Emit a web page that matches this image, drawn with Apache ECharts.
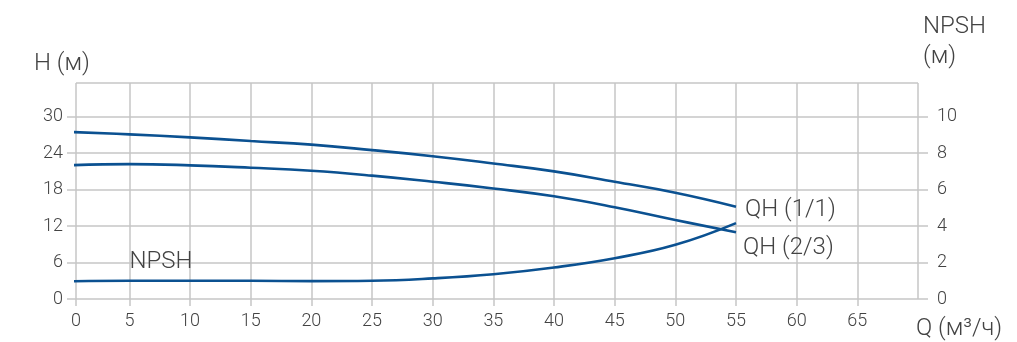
<!DOCTYPE html>
<html>
<head>
<meta charset="utf-8">
<script src="https://cdn.jsdelivr.net/npm/echarts@6/dist/echarts.min.js"></script>
<style>
html,body{margin:0;padding:0;background:#fff;}
#chart{width:1017px;height:342px;}
</style>
</head>
<body>
<div id="chart"></div>
<script>
// Flow Q (m3/h)
const qValues = [0, 5, 10, 15, 20, 25, 30, 35, 40, 45, 50, 55];
// Head curves H (m)
const qh11 = [27.5, 27.1, 26.6, 26.0, 25.4, 24.5, 23.5, 22.3, 21.0, 19.3, 17.5, 15.2];
const qh23 = [22.0, 22.2, 22.0, 21.6, 21.1, 20.3, 19.3, 18.2, 16.9, 15.1, 13.0, 11.0];
// NPSH (m)
const npsh = [0.97, 1.0, 1.0, 1.0, 0.98, 1.0, 1.13, 1.36, 1.73, 2.24, 2.97, 4.16];
// Tick labels
const qTickLabels = ['0', '5', '10', '15', '20', '25', '30', '35', '40', '45', '50', '55', '60', '65'];
const hTickLabels = ['0', '6', '12', '18', '24', '30'];
const npshTickLabels = ['0', '2', '4', '6', '8', '10'];
const seriesNames = ['QH (1/1)', 'QH (2/3)', 'NPSH'];
const axisNames = { h: 'H (м)', npsh: 'NPSH\n(м)', q: 'Q (м³/ч)' };

const FONT = 'Roboto, "Noto Sans", sans-serif';
const TEXT = '#434343';
const GRIDC = '#c6c6c6';
const LINEC = '#0b5191';

const pairs = ys => qValues.map((q, i) => [q, ys[i]]);

const chart = echarts.init(document.getElementById('chart'), null, { renderer: 'canvas' });
chart.setOption({
  animation: false,
  backgroundColor: '#fff',
  grid: { left: 76, right: 99, top: 83, bottom: 43, containLabel: false },
  xAxis: {
    type: 'value', min: 0.6, max: 70, splitNumber: 14,
    axisLine: { show: false },
    axisTick: { show: true, length: 7, lineStyle: { color: GRIDC, width: 1.5 } },
    splitLine: { show: true, lineStyle: { color: GRIDC, width: 1.5 } },
    axisLabel: {
      margin: 13, color: TEXT, fontSize: 18, fontFamily: FONT, fontWeight: 300,
      showMaxLabel: false,
      formatter: v => {
        const idx = Math.round(v / 5);
        return idx < qTickLabels.length ? qTickLabels[idx] : '';
      }
    }
  },
  yAxis: [
    {
      type: 'value', min: 0, max: 35.55, interval: 6,
      axisLine: { show: false },
      axisTick: { show: true, length: 9, lineStyle: { color: GRIDC, width: 1.5 } },
      splitLine: { show: true, lineStyle: { color: GRIDC, width: 1.5 } },
      axisLabel: {
        margin: 13, color: TEXT, fontSize: 18, fontFamily: FONT, fontWeight: 300,
        showMaxLabel: false,
        formatter: v => { const i = Math.round(v / 6); return (Math.abs(v - i * 6) < 1e-6 && i < hTickLabels.length) ? hTickLabels[i] : ''; }
      }
    },
    {
      type: 'value', min: 0, max: 11.85, interval: 2, position: 'right',
      axisLine: { show: false },
      axisTick: { show: true, length: 10, lineStyle: { color: GRIDC, width: 1.5 } },
      splitLine: { show: false },
      axisLabel: {
        margin: 19, color: TEXT, fontSize: 18, fontFamily: FONT, fontWeight: 300,
        showMaxLabel: false,
        formatter: v => { const i = Math.round(v / 2); return (Math.abs(v - i * 2) < 1e-6 && i < npshTickLabels.length) ? npshTickLabels[i] : ''; }
      }
    }
  ],
  graphic: [
    { type: 'text', x: 34, y: 64, style: { text: axisNames.h, font: '300 24px ' + FONT, fill: TEXT, align: 'left', verticalAlign: 'middle' } },
    { type: 'text', x: 923, y: 12, style: { text: axisNames.npsh, font: '300 24px ' + FONT, fill: TEXT, align: 'left', verticalAlign: 'top', lineHeight: 30 } },
    { type: 'text', x: 916, y: 329, style: { text: axisNames.q, font: '300 24px ' + FONT, fill: TEXT, align: 'left', verticalAlign: 'middle' } }
  ],
  series: [
    {
      name: seriesNames[0], type: 'line', yAxisIndex: 0, smooth: 0.45, showSymbol: false,
      data: pairs(qh11),
      lineStyle: { color: LINEC, width: 2.6 },
      endLabel: { show: true, formatter: seriesNames[0], color: TEXT, fontSize: 24, fontFamily: FONT, fontWeight: 300, distance: 9, offset: [0, 3] }
    },
    {
      name: seriesNames[1], type: 'line', yAxisIndex: 0, smooth: 0.45, showSymbol: false,
      data: pairs(qh23),
      lineStyle: { color: LINEC, width: 2.6 },
      endLabel: { show: true, formatter: seriesNames[1], color: TEXT, fontSize: 24, fontFamily: FONT, fontWeight: 300, distance: 7, offset: [0, 16] }
    },
    {
      name: seriesNames[2], type: 'line', yAxisIndex: 1, smooth: 0.45, showSymbol: false,
      data: pairs(npsh),
      lineStyle: { color: LINEC, width: 2.6 },
      markPoint: {
        symbol: 'circle', symbolSize: 0,
        data: [{ coord: [qValues[1], npsh[1]] }],
        label: { show: true, formatter: seriesNames[2], position: 'top', align: 'left', verticalAlign: 'middle', distance: 0, offset: [0, -19], color: TEXT, fontSize: 24, fontFamily: FONT, fontWeight: 300 }
      }
    }
  ]
});
</script>
</body>
</html>
